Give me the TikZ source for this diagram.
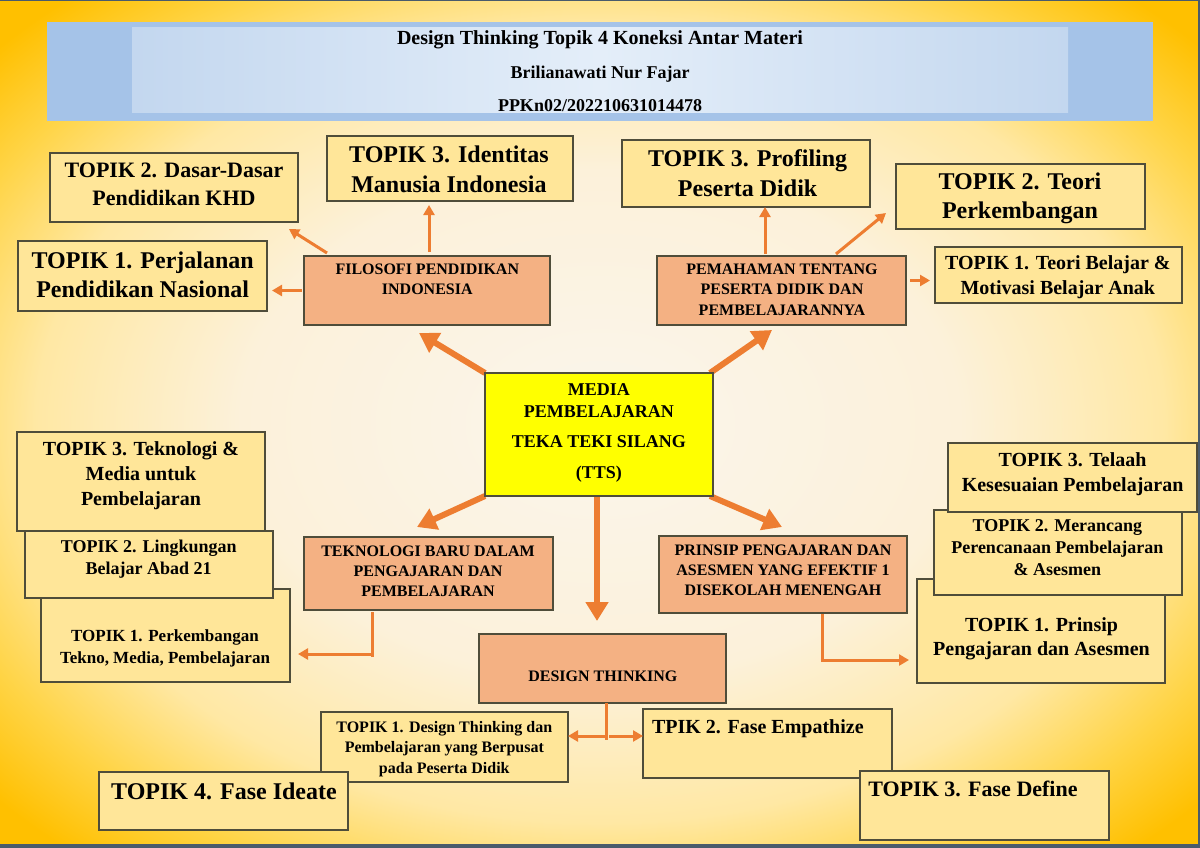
\documentclass[tikz,border=0pt]{standalone}
\usepackage{fontspec}
\setmainfont{Liberation Serif}
\usetikzlibrary{arrows.meta,calc}
\definecolor{bgc}{HTML}{FAF5EC}
\definecolor{bgcb}{HTML}{FCF1DA}
\definecolor{bgm}{HTML}{FFE8A4}
\definecolor{bgmb}{HTML}{FFD445}
\definecolor{bgo}{HTML}{FFC000}
\definecolor{hdrout}{HTML}{A5C3E8}
\definecolor{hdrin}{HTML}{C3D7EF}
\definecolor{hdrmid}{HTML}{E4EEF9}
\definecolor{boxline}{HTML}{4F4D3A}
\definecolor{topicfill}{HTML}{FFE699}
\definecolor{salmonfill}{HTML}{F4B183}
\definecolor{centerfill}{HTML}{FFFF00}
\definecolor{arr}{HTML}{ED7D31}
\definecolor{framec}{HTML}{4A5B6C}
\pgfdeclareradialshading{bgshade}{\pgfpoint{0bp}{0bp}}{color(0bp)=(bgc); color(15bp)=(bgcb); color(23.5bp)=(bgm); color(29bp)=(bgmb); color(33.5bp)=(bgo); color(50bp)=(bgo)}
\newcommand{\myfs}[2]{\fontsize{#1}{#2}\selectfont\bfseries}
\tikzset{
  topic/.style={draw=boxline, line width=1.1pt, fill=topicfill, inner sep=0pt, outer sep=0pt},
  salmonbox/.style={topic, fill=salmonfill},
  centerbox/.style={topic, fill=centerfill},
  txt/.style={inner sep=0pt, outer sep=0pt, align=center, text=black},
  bigarrow/.style={draw=arr, line width=6pt, -{Triangle[width=22pt,length=19pt]}},
  smallarrow/.style={draw=arr, line width=3pt, -{Triangle[width=11pt,length=10pt]}},
  smallline/.style={draw=arr, line width=3pt}
}
\begin{document}
\begin{tikzpicture}[x=1pt,y=-1pt]
\useasboundingbox (0,0) rectangle (1200,848);
\shade[shading=bgshade] (0,0) rectangle (1200,848);
% frame
\fill[framec] (0,0) rectangle (1200,1.5);
\fill[framec] (1198,0) rectangle (1200,848);
\fill[framec] (0,843.5) rectangle (1200,848);
% header
\fill[hdrout] (47,22) rectangle (1153,121);
\shade[left color=hdrin, right color=hdrin, middle color=hdrmid] (132,28) rectangle (1068,113);
\node[txt, anchor=base, font=\myfs{20}{24}] (title) at (600,44.3) {Design Thinking Topik 4 Koneksi Antar Materi};
\node[txt, anchor=base, font=\myfs{18}{22}] (author) at (600,79) {Brilianawati Nur Fajar};
\node[txt, anchor=base, font=\myfs{18}{22}] (idnum) at (600,111.7) {PPKn02/202210631014478};

% box nodes (upper)
\path
  (174,187.5) node[topic, minimum width=248pt, minimum height=69pt] (t2dasar) {}
  (450,168.5) node[topic, minimum width=246pt, minimum height=65pt] (t3ident) {}
  (142.5,276) node[topic, minimum width=249pt, minimum height=70pt] (t1perj) {}
  (427,290.5) node[salmonbox, minimum width=246pt, minimum height=69pt] (filo) {}
  (746,173.5) node[topic, minimum width=248pt, minimum height=67pt] (t3prof) {}
  (1020.5,196.5) node[topic, minimum width=249pt, minimum height=65pt] (t2teori) {}
  (1058.5,275) node[topic, minimum width=247pt, minimum height=56pt] (t1belajar) {}
  (781.5,290.5) node[salmonbox, minimum width=249pt, minimum height=69pt] (pemah) {};

% arrows from the upper salmon boxes
\coordinate (fA) at ($(filo.north)+(2,-4)$);
\draw[smallarrow, shorten >=4pt] (fA) -- (fA |- t3ident.south);
\coordinate (fB) at ($(filo.north west)+(23,-3)$);
\coordinate (fBt) at ($(t2dasar.south east)+(-9,7)$);
\draw[smallarrow] (fB) -- (fBt);
\coordinate (fC) at ($(filo.west)+(-2,0)$);
\draw[smallarrow, shorten >=5pt] (fC) -- (fC -| t1perj.east);
\coordinate (pA) at ($(pemah.north)+(-16.5,-2)$);
\draw[smallarrow] (pA) -- (pA |- t3prof.south);
\coordinate (pB) at ($(pemah.north)+(54.5,-2)$);
\coordinate (pBt) at ($(t2teori.south west)+(-10,-16)$);
\draw[smallarrow] (pB) -- (pBt);
\coordinate (pC) at ($(pemah.east)+(4,-10)$);
\draw[smallarrow, shorten >=5pt] (pC) -- (pC -| t1belajar.west);

% texts of upper boxes
\node[txt, font=\myfs{22}{27.5}] (t2dasar-t) at (174,184.5) {TOPIK 2. Dasar-Dasar\\Pendidikan KHD};
\node[txt, font=\myfs{24}{29.7}] (t3ident-t) at (449,169.5) {TOPIK 3. Identitas\\Manusia Indonesia};
\node[txt, font=\myfs{24}{29}] (t1perj-t) at (142.7,274.6) {TOPIK 1. Perjalanan\\Pendidikan Nasional};
\node[txt, font=\myfs{16}{20}] (filo-t) at (427.3,279.7) {FILOSOFI PENDIDIKAN\\INDONESIA};
\node[txt, font=\myfs{24}{30}] (t3prof-t) at (747.6,173.3) {TOPIK 3. Profiling\\Peserta Didik};
\node[txt, font=\myfs{24}{29.6}] (t2teori-t) at (1020,198.5) {TOPIK 2. Teori\\Perkembangan};
\node[txt, font=\myfs{20}{25}] (t1belajar-t) at (1057.8,277) {TOPIK 1. Teori Belajar \&\\Motivasi Belajar Anak};
\node[txt, font=\myfs{16}{20.3}] (pemah-t) at (782,289.5) {PEMAHAMAN TENTANG\\PESERTA DIDIK DAN\\PEMBELAJARANNYA};

% lower salmon boxes and design thinking
\path
  (428.5,573.5) node[salmonbox, minimum width=249pt, minimum height=73pt] (teknobaru) {}
  (783,574.5) node[salmonbox, minimum width=248pt, minimum height=77pt] (prinsip) {}
  (602.5,668.5) node[salmonbox, minimum width=247pt, minimum height=69pt] (design) {};

% centre box (placed first without drawing, drawn after its arrows)
\path (599,434.5) node[inner sep=0pt, outer sep=0pt, minimum width=228pt, minimum height=123pt] (media) {};
\coordinate (tipNW) at ($(filo.south)+(-8,8)$);
\coordinate (tipNE) at ($(pemah.south)+(-9.5,5)$);
\coordinate (tipSW) at ($(teknobaru.north)+(-11.5,-10)$);
\coordinate (tipSE) at ($(prinsip.north)+(-1,-9)$);
\coordinate (tipD) at ($(design.north)+(-5.5,-13)$);
\draw[bigarrow] (media.north west) -- (tipNW);
\draw[bigarrow] ([xshift=-3pt]media.north east) -- (tipNE);
\draw[bigarrow] (media.south west) -- (tipSW);
\draw[bigarrow] ([xshift=-3pt]media.south east) -- (tipSE);
\draw[bigarrow] ([xshift=-2pt]media.south) -- (tipD);
\draw[centerbox] (media.north west) rectangle (media.south east);
\node[txt, font=\myfs{18}{22}] (media-t) at (598.8,432.5) {MEDIA\\PEMBELAJARAN\\[8.5pt]TEKA TEKI SILANG\\[8.5pt](TTS)};

\node[txt, font=\myfs{16}{20}] (teknobaru-t) at (428,571) {TEKNOLOGI BARU DALAM\\PENGAJARAN DAN\\PEMBELAJARAN};
\node[txt, font=\myfs{16}{20}] (prinsip-t) at (783,569.8) {PRINSIP PENGAJARAN DAN\\ASESMEN YANG EFEKTIF 1\\DISEKOLAH MENENGAH};
\node[txt, font=\myfs{16}{20}] (design-t) at (602.8,676.3) {DESIGN THINKING};

% left stack
\node[topic, minimum width=249pt, minimum height=93pt] (t1perk) at (165.5,635.5) {};
\node[txt, font=\myfs{17}{22}] (t1perk-t) at (165,648) {TOPIK 1. Perkembangan\\Tekno, Media, Pembelajaran};
\node[topic, minimum width=248pt, minimum height=67pt] (t2ling) at (149,564.5) {};
\node[txt, font=\myfs{18}{21.7}] (t2ling-t) at (148.7,559.5) {TOPIK 2. Lingkungan\\Belajar Abad 21};
\node[topic, minimum width=248pt, minimum height=99pt] (t3tek) at (141,481.5) {};
\node[txt, font=\myfs{20}{25}] (t3tek-t) at (141,476) {TOPIK 3. Teknologi \&\\Media untuk\\Pembelajaran};

% right stack
\node[topic, minimum width=248pt, minimum height=104pt] (t1prinsip) at (1041,631) {};
\node[txt, font=\myfs{20}{24.3}] (t1prinsip-t) at (1041.5,638.7) {TOPIK 1. Prinsip\\Pengajaran dan Asesmen};
\node[topic, minimum width=248pt, minimum height=85pt] (t2meranc) at (1058,552.5) {};
\node[txt, font=\myfs{18}{22}] (t2meranc-t) at (1057.4,547.6) {TOPIK 2. Merancang\\Perencanaan Pembelajaran\\\& Asesmen};
\node[topic, minimum width=249pt, minimum height=69pt] (t3telaah) at (1072.5,477.5) {};
\node[txt, font=\myfs{20}{24.5}] (t3telaah-t) at (1072.6,474.3) {TOPIK 3. Telaah\\Kesesuaian Pembelajaran};

% elbow connectors
\coordinate (kA) at ($(teknobaru.south)+(-56.5,2)$);
\draw[smallline] (kA) -- ++(0,45);
\coordinate (kB) at ($(kA)+(0,42)$);
\draw[smallarrow, shorten >=8pt] (kB) -- (kB -| t1perk.east);
\coordinate (rA) at ($(prinsip.south)+(39,1)$);
\draw[smallline] (rA) -- ++(0,47.5);
\coordinate (rB) at ($(rA)+(0,46)$);
\draw[smallarrow, shorten >=8pt] ($(rB)+(-1.5,0)$) -- (rB -| t1prinsip.west);

% bottom boxes
\node[topic, minimum width=247pt, minimum height=70pt] (t1dt) at (444.5,747) {};
\node[txt, font=\myfs{16}{20.4}] (t1dt-t) at (444.3,749) {TOPIK 1. Design Thinking dan\\Pembelajaran yang Berpusat\\pada Peserta Didik};
\node[topic, minimum width=249pt, minimum height=58pt] (t4ideate) at (223.5,801) {};
\node[txt, anchor=base, font=\myfs{24}{28}] (t4ideate-t) at (224,799.3) {TOPIK 4. Fase Ideate};
\node[topic, minimum width=249pt, minimum height=69pt] (t2emp) at (767.5,743.5) {};
\node[txt, anchor=base west, font=\myfs{20}{24}] (t2emp-t) at (652,733.3) {TPIK 2. Fase Empathize};
\node[topic, minimum width=249pt, minimum height=69pt] (t3define) at (984.5,805.5) {};
\node[txt, anchor=base west, font=\myfs{22}{26}] (t3define-t) at (868.4,796) {TOPIK 3. Fase Define};

% design thinking connectors
\coordinate (dA) at ($(design.south)+(3.5,0)$);
\draw[smallline] (dA) -- ++(0,37);
\coordinate (dB) at ($(dA)+(0,33)$);
\draw[smallarrow] (dB) -- (dB -| t1dt.east);
\draw[smallarrow] ($(dB)+(3,0)$) -- (dB -| t2emp.west);
\end{tikzpicture}
\end{document}
